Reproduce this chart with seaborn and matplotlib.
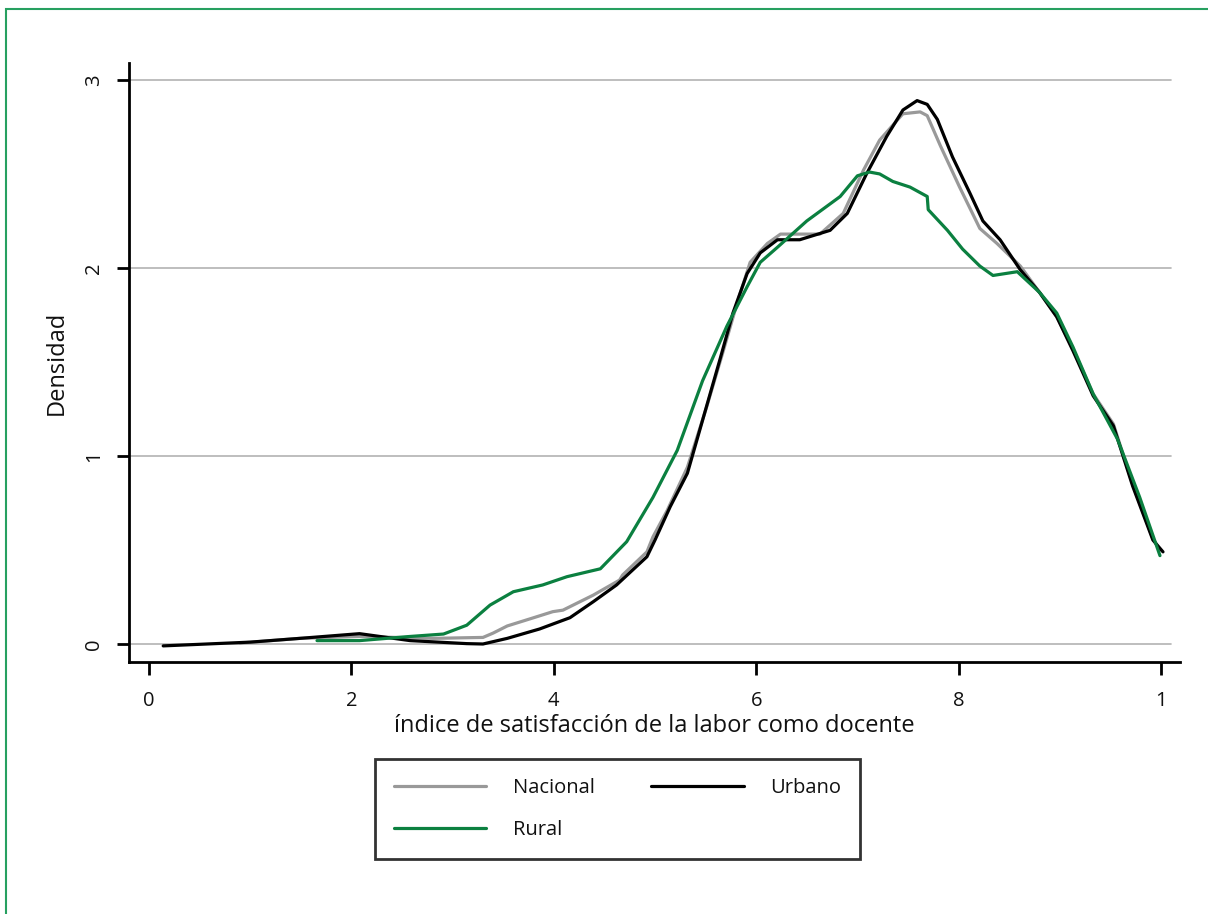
import pandas as pd
import numpy as np
import matplotlib
matplotlib.use('Agg')
import matplotlib.pyplot as plt
import matplotlib.patches as mpatches
from matplotlib.lines import Line2D
import seaborn as sns

# Density curves (x = satisfaction index, y = density)
urbano_x = [0.014, 0.100, 0.149, 0.208, 0.258, 0.314, 0.330, 0.354, 0.386, 0.416,
            0.439, 0.462, 0.492, 0.500, 0.515, 0.532, 0.547, 0.564, 0.577, 0.591,
            0.604, 0.621, 0.643, 0.673, 0.690, 0.709, 0.729, 0.745, 0.759, 0.769,
            0.779, 0.794, 0.811, 0.824, 0.841, 0.861, 0.880, 0.897, 0.913, 0.933,
            0.953, 0.972, 0.992, 1.002]
urbano_y = [-0.01, 0.01, 0.03, 0.055, 0.018, 0.002, 0.0, 0.03, 0.08, 0.14,
            0.225, 0.314, 0.464, 0.553, 0.73, 0.908, 1.19, 1.51, 1.76, 1.97,
            2.08, 2.15, 2.15, 2.20, 2.29, 2.50, 2.70, 2.84, 2.89, 2.87,
            2.79, 2.59, 2.40, 2.25, 2.15, 1.99, 1.87, 1.74, 1.56, 1.32,
            1.16, 0.84, 0.553, 0.49]

nacional_x = [0.090, 0.149, 0.208, 0.281, 0.330, 0.340, 0.354, 0.379, 0.399, 0.409,
              0.439, 0.465, 0.468, 0.492, 0.498, 0.512, 0.532, 0.551, 0.567, 0.581,
              0.594, 0.611, 0.624, 0.663, 0.686, 0.706, 0.722, 0.745, 0.762, 0.769,
              0.782, 0.801, 0.821, 0.838, 0.861, 0.880, 0.897, 0.913, 0.933, 0.953,
              0.972, 0.992, 0.999]
nacional_y = [0.005, 0.03, 0.04, 0.03, 0.035, 0.058, 0.096, 0.138, 0.172, 0.18,
              0.26, 0.34, 0.367, 0.49, 0.57, 0.71, 0.94, 1.26, 1.55, 1.81,
              2.03, 2.13, 2.18, 2.18, 2.29, 2.52, 2.68, 2.82, 2.83, 2.81,
              2.65, 2.43, 2.21, 2.13, 2.01, 1.87, 1.74, 1.57, 1.33, 1.17,
              0.85, 0.56, 0.50]

rural_x = [0.166, 0.208, 0.255, 0.291, 0.314, 0.337, 0.360, 0.389, 0.413, 0.446,
           0.472, 0.498, 0.522, 0.547, 0.571, 0.591, 0.604, 0.621, 0.650, 0.683,
           0.700, 0.712, 0.722, 0.735, 0.752, 0.769, 0.770, 0.789, 0.804, 0.821,
           0.834, 0.858, 0.880, 0.897, 0.913, 0.933, 0.957, 0.979, 0.999]
rural_y = [0.018, 0.018, 0.039, 0.053, 0.10, 0.207, 0.278, 0.314, 0.358, 0.40,
           0.544, 0.78, 1.03, 1.40, 1.69, 1.90, 2.03, 2.11, 2.25, 2.38,
           2.49, 2.51, 2.50, 2.46, 2.43, 2.38, 2.31, 2.20, 2.10, 2.01,
           1.96, 1.98, 1.87, 1.76, 1.58, 1.33, 1.09, 0.78, 0.47]

x_ticks = [0, 0.2, 0.4, 0.6, 0.8, 1.0]
x_tick_labels = ['0', '2', '4', '6', '8', '1']
y_ticks = [0, 1, 2, 3]
y_tick_labels = ['0', '1', '2', '3']

groups = ['Nacional', 'Urbano', 'Rural']
colors = {'Nacional': '#999999', 'Urbano': '#000000', 'Rural': '#0b8040'}

df = pd.concat([
    pd.DataFrame({'x': nacional_x, 'y': nacional_y, 'grupo': 'Nacional'}),
    pd.DataFrame({'x': urbano_x, 'y': urbano_y, 'grupo': 'Urbano'}),
    pd.DataFrame({'x': rural_x, 'y': rural_y, 'grupo': 'Rural'}),
], ignore_index=True)

sns.set_theme(style='white')
plt.rcParams['font.family'] = ['Open Sans', 'DejaVu Sans']
plt.rcParams['text.color'] = '#111111'
plt.rcParams['axes.labelcolor'] = '#111111'
plt.rcParams['xtick.color'] = '#111111'
plt.rcParams['ytick.color'] = '#111111'
fs = 14.5       # tick labels and legend
fs_title = 17   # axis titles

fig = plt.figure(figsize=(12.08, 9.14), dpi=100)
ax = fig.add_axes([129 / 1208, 1 - 662 / 914, (1180 - 129) / 1208, (662 - 63) / 914])

# gridlines
for yv in y_ticks:
    ax.axhline(yv, xmin=0, xmax=0.9914, color='#b3b3b3', lw=1.2, zorder=0)

sns.lineplot(data=df, x='x', y='y', hue='grupo', hue_order=groups,
             palette=colors, estimator=None, sort=False, lw=2.3,
             legend=False, ax=ax)

ax.set_xlim(-0.0198, 1.0188)
ax.set_ylim(-0.0957, 3.09)
ax.set_xticks(x_ticks)
ax.set_xticklabels(x_tick_labels)
ax.set_yticks(y_ticks)
ax.set_yticklabels(y_tick_labels, rotation=90, va='center')

for s in ['top', 'right']:
    ax.spines[s].set_visible(False)
for s in ['left', 'bottom']:
    ax.spines[s].set_color('black')
    ax.spines[s].set_linewidth(2)

ax.tick_params(axis='x', length=9, width=2, color='black', direction='out',
               pad=12, labelsize=fs, bottom=True)
ax.tick_params(axis='y', length=9, width=2, color='black', direction='out',
               pad=9, labelsize=fs, left=True)

ax.set_xlabel('índice de satisfacción de la labor como docente', fontsize=fs_title, labelpad=2)
ax.set_ylabel('Densidad', fontsize=fs_title, labelpad=11)

handles = [Line2D([], [], color=colors['Nacional'], lw=2.3),
           Line2D([], [], color=colors['Rural'], lw=2.3),
           Line2D([], [], color=colors['Urbano'], lw=2.3)]
labels = ['Nacional', 'Rural', 'Urbano']
leg = fig.legend(handles, labels, ncol=2, loc='upper center',
                 bbox_to_anchor=(0.511, 1 - 759 / 914), bbox_transform=fig.transFigure,
                 borderaxespad=0, fontsize=fs, frameon=True, fancybox=False,
                 handlelength=4.6, handletextpad=1.3, columnspacing=2.8,
                 labelspacing=1.1, borderpad=0.95)
leg.get_frame().set_edgecolor('black')
leg.get_frame().set_linewidth(2)

# green frame around the figure (top and left edges visible)
fig.add_artist(mpatches.Rectangle((6 / 1208, -0.05), 1.2, 0.05 + 1 - 8.5 / 914,
                                  transform=fig.transFigure, fill=False,
                                  edgecolor='#27a060', lw=1.5))

fig.savefig('out.png', dpi=100)
plt.close(fig)
